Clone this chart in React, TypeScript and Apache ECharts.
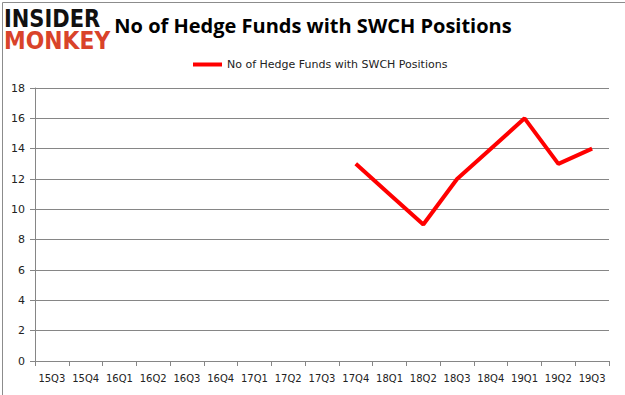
import React, { useEffect, useRef } from "react";
import * as echarts from "echarts";

const categories = ["15Q3","15Q4","16Q1","16Q2","16Q3","16Q4","17Q1","17Q2","17Q3","17Q4","18Q1","18Q2","18Q3","18Q4","19Q1","19Q2","19Q3"];
const seriesValues: (number | null)[] = [null,null,null,null,null,null,null,null,null,13,11,9,12,14,16,13,14];
const seriesName = "No of Hedge Funds with SWCH Positions";
const titleText = "No of Hedge Funds with SWCH Positions";

export default function App() {
  const ref = useRef<HTMLDivElement>(null);
  useEffect(() => {
    document.body.style.margin = "0";
    const chart = echarts.init(ref.current!, null, { renderer: "svg" });
    chart.setOption({
      animation: false,
      backgroundColor: "#ffffff",
      title: {
        text: titleText,
        left: 308,
        textAlign: "center",
        top: 10,
        textStyle: { fontFamily: "Open Sans", fontWeight: "bold", fontSize: 20, color: "#000" },
      },
      legend: {
        data: [seriesName],
        top: 54,
        left: 188,
        itemWidth: 29,
        itemHeight: 4,
        itemGap: 3,
        icon: "rect",
        textStyle: { fontFamily: "DejaVu Sans", fontSize: 11, color: "#222" },
      },
      grid: { left: 35, right: 16, top: 88, bottom: 34, containLabel: false },
      xAxis: {
        type: "category",
        data: categories,
        boundaryGap: true,
        axisLine: { lineStyle: { color: "#868686", width: 1 } },
        axisTick: { show: true, length: 5, lineStyle: { color: "#868686" }, alignWithLabel: false },
        axisLabel: { fontFamily: "DejaVu Sans", fontSize: 10, color: "#222", margin: 12, interval: 0 },
      },
      yAxis: {
        type: "value",
        min: 0,
        max: 18,
        interval: 2,
        axisLine: { show: true, lineStyle: { color: "#868686", width: 1 } },
        axisTick: { show: true, length: 5, lineStyle: { color: "#868686" } },
        axisLabel: { fontFamily: "DejaVu Sans", fontSize: 11, color: "#222", margin: 10 },
        splitLine: { lineStyle: { color: "#868686", width: 1 } },
      },
      series: [
        {
          name: seriesName,
          type: "line",
          data: seriesValues,
          showSymbol: false,
          symbol: "none",
          connectNulls: false,
          lineStyle: { color: "#ff0000", width: 4 },
          itemStyle: { color: "#ff0000" },
        },
      ],
      graphic: [
        {
          type: "rect",
          left: 0,
          top: 0,
          shape: { x: 0.5, y: 0.5, width: 624, height: 394 },
          style: { fill: "none", stroke: "#8c8c8c", lineWidth: 1 },
          silent: true,
        },
        {
          type: "text",
          x: 4,
          y: 5,
          scaleY: 1.22,
          style: {
            text: "INSIDER",
            fontFamily: "DejaVu Sans",
            fontWeight: "bold",
            fontSize: 21,
            fill: "#111111",
            verticalAlign: "top",
          },
        },
        {
          type: "text",
          x: 4,
          y: 28,
          scaleY: 1.22,
          scaleX: 1.04,
          style: {
            text: "MONKEY",
            fontFamily: "DejaVu Sans",
            fontWeight: "bold",
            fontSize: 21,
            fill: "#d9432a",
            verticalAlign: "top",
          },
        },
      ],
    });
    return () => chart.dispose();
  }, []);
  return <div ref={ref} style={{ width: 625, height: 395 }} />;
}
